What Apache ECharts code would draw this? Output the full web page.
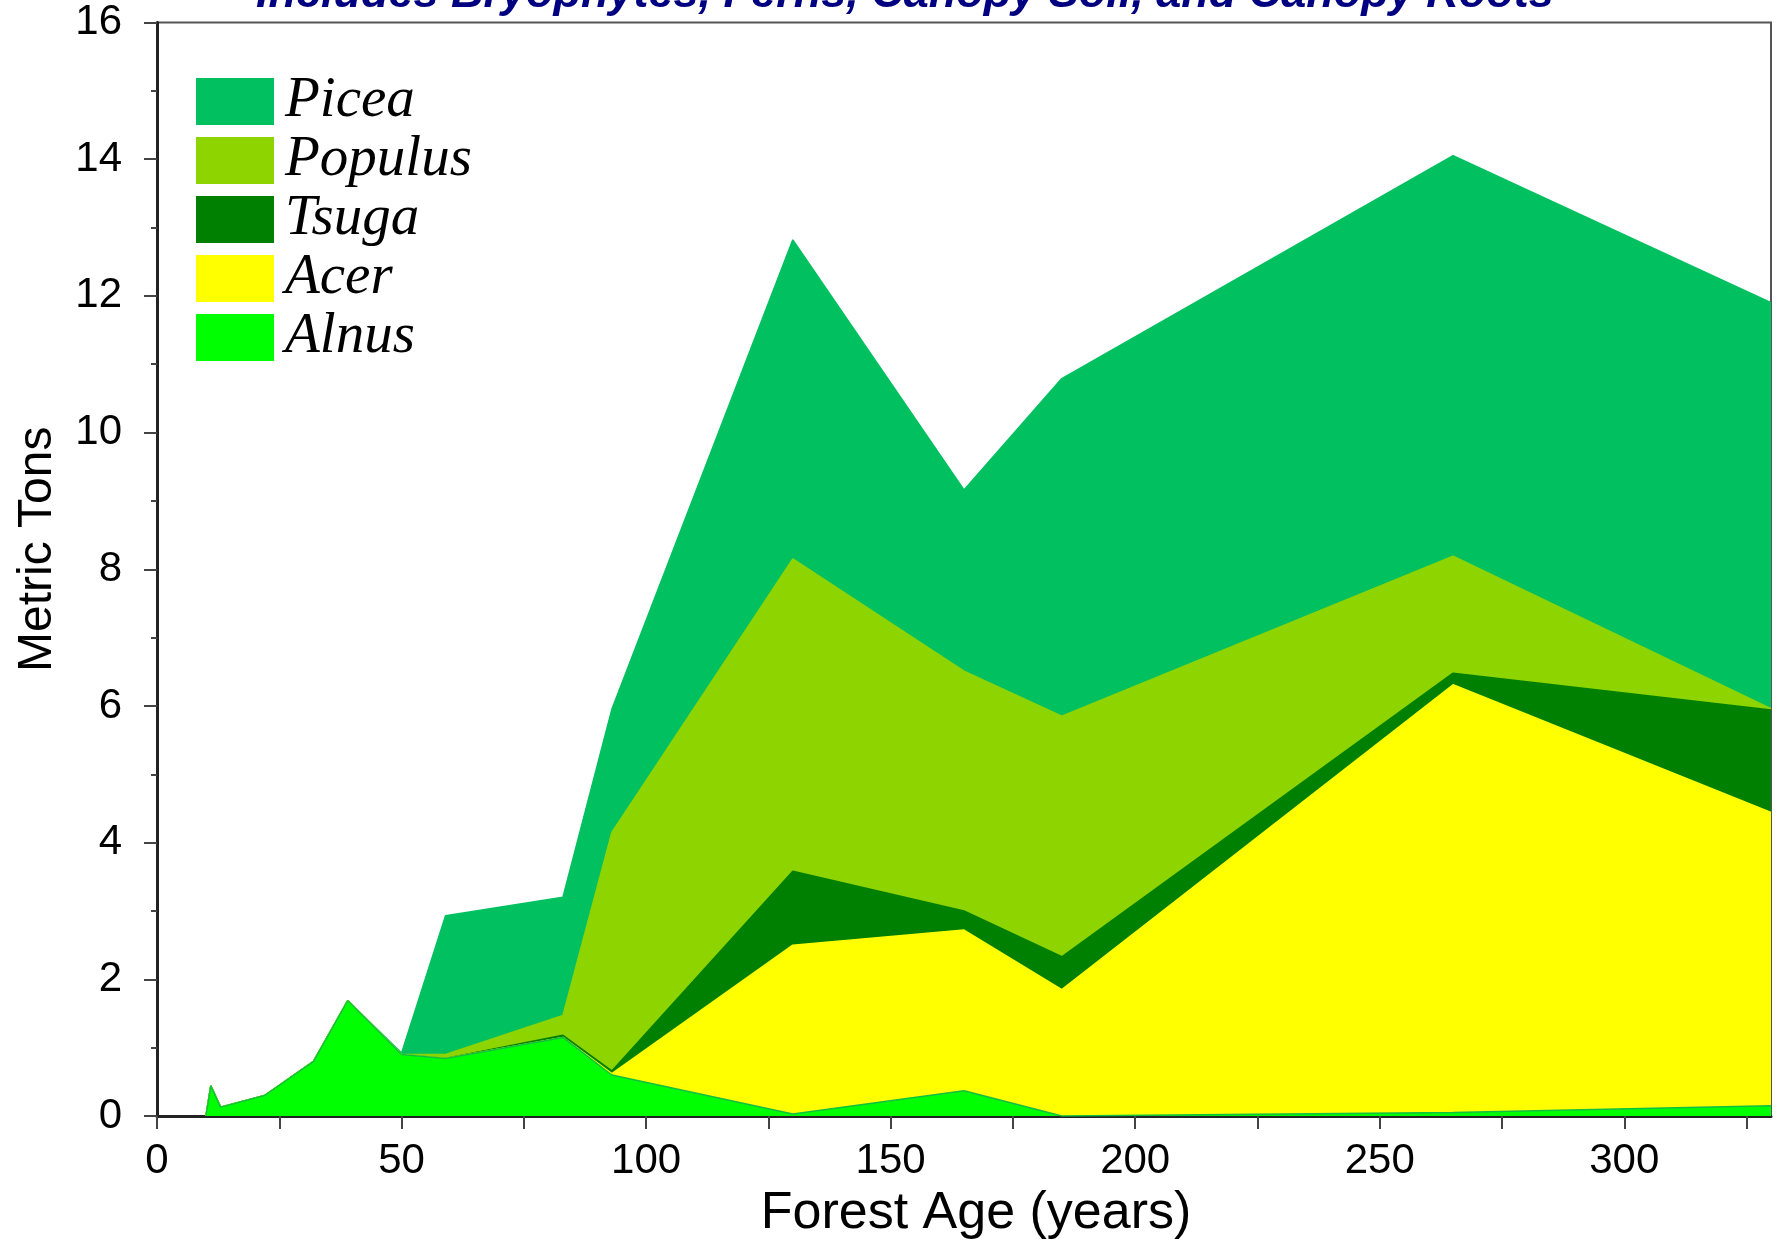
<!DOCTYPE html>
<html>
<head>
<meta charset="utf-8">
<script src="https://cdn.jsdelivr.net/npm/echarts@6/dist/echarts.min.js"></script>
<style>
html,body{margin:0;padding:0;background:#fff;}
#chart{width:1786px;height:1245px;}
</style>
</head>
<body>
<div id="chart"></div>
<script>
// Forest age (years)
const ages    = [10, 11, 13, 22, 32, 39, 50, 59, 83, 93, 130, 165, 185, 265, 330];
// Layer thickness (metric tons), stacked bottom to top
const alnus   = [0, 0.44, 0.13, 0.30, 0.80, 1.69, 0.90, 0.84, 1.15, 0.60, 0.03, 0.37, 0.00, 0.05, 0.15];
const acer    = [0, 0, 0, 0, 0, 0, 0, 0, 0, 0.02, 2.47, 2.35, 1.85, 6.26, 4.29];
const tsuga   = [0, 0, 0, 0, 0, 0, 0, 0, 0.03, 0.04, 1.08, 0.28, 0.48, 0.17, 1.50];
const populus = [0, 0, 0, 0, 0, 0, 0.00, 0.06, 0.29, 3.49, 4.57, 3.51, 3.52, 1.71, 0.02];
const picea   = [0, 0, 0, 0, 0, 0, 0.02, 2.03, 1.73, 1.80, 4.67, 2.65, 4.94, 5.86, 5.94];

const legendOrder = ['Picea', 'Populus', 'Tsuga', 'Acer', 'Alnus'];
const titleText = 'Includes Bryophytes, Ferns, Canopy Soil, and Canopy Roots';
const xName = 'Forest Age (years)';
const yName = 'Metric Tons';

const layers = [
  {name: 'Alnus', values: alnus, color: '#00ff00', line: '#10c040'},
  {name: 'Acer', values: acer, color: '#ffff00', line: '#ffff00'},
  {name: 'Tsuga', values: tsuga, color: '#008000', line: '#008000'},
  {name: 'Populus', values: populus, color: '#8ed400', line: '#8ed400'},
  {name: 'Picea', values: picea, color: '#00c060', line: '#00c060'}
];

// cumulative tops (stack bottom -> top), drawn as overlapping areas down to the axis
const running = ages.map(function () { return 0; });
const seriesList = layers.map(function (L, k) {
  const pts = ages.map(function (a, i) {
    running[i] = +(running[i] + L.values[i]).toFixed(4);
    return [a, running[i]];
  });
  return {
    name: L.name,
    type: 'line',
    symbol: 'none',
    smooth: false,
    z: 10 - k,
    color: L.color,
    lineStyle: {color: L.line, width: 1.5},
    areaStyle: {color: L.color, opacity: 1, origin: 'start'},
    data: pts
  };
});

const chart = echarts.init(document.getElementById('chart'), null, {renderer: 'canvas'});
const option = {
  backgroundColor: '#ffffff',
  animation: false,
  title: {
    text: titleText,
    left: 256,
    top: -28,
    padding: 0,
    textStyle: {
      fontFamily: 'Liberation Sans, Arial, sans-serif',
      fontSize: 45,
      fontWeight: 'bold',
      fontStyle: 'italic',
      color: '#000080'
    }
  },
  legend: {
    data: legendOrder,
    orient: 'vertical',
    left: 196,
    top: 73,
    padding: 0,
    itemWidth: 78,
    itemHeight: 47,
    itemGap: 2,
    icon: 'rect',
    itemStyle: {borderWidth: 0},
    lineStyle: {width: 0},
    textStyle: {
      fontFamily: 'Liberation Serif, Times New Roman, serif',
      fontStyle: 'italic',
      fontSize: 57,
      color: '#000',
      padding: [0, 0, 0, 6]
    }
  },
  grid: {
    left: 157, right: 15, top: 22.5, bottom: 117,
    show: true,
    borderColor: '#555',
    borderWidth: 2,
    backgroundColor: '#ffffff'
  },
  xAxis: {
    type: 'value',
    min: 0,
    max: 330,
    interval: 25,
    name: xName,
    nameLocation: 'middle',
    nameGap: 72,
    nameTextStyle: {fontFamily: 'Liberation Sans, Arial, sans-serif', fontSize: 52, color: '#000', padding: [0, 0, 0, 24]},
    axisLine: {show: true, onZero: false, lineStyle: {color: '#222', width: 3}},
    axisTick: {show: true, length: 13, inside: false, lineStyle: {color: '#444', width: 2}},
    splitLine: {show: false},
    axisLabel: {
      fontFamily: 'Liberation Sans, Arial, sans-serif',
      fontSize: 42,
      color: '#000',
      margin: 24,
      showMaxLabel: false,
      formatter: function (v) { return (v % 50 === 0 && v <= 300) ? String(v) : ''; }
    }
  },
  yAxis: {
    type: 'value',
    min: 0,
    max: 16,
    interval: 2,
    name: yName,
    nameLocation: 'middle',
    nameGap: 95,
    nameTextStyle: {fontFamily: 'Liberation Sans, Arial, sans-serif', fontSize: 48, color: '#000', padding: [0, 0, 0, 40]},
    axisLine: {show: true, onZero: false, lineStyle: {color: '#222', width: 3}},
    axisTick: {show: true, length: 13, inside: false, lineStyle: {color: '#444', width: 2}},
    minorTick: {show: true, splitNumber: 2, length: 6, lineStyle: {color: '#444', width: 2}},
    splitLine: {show: false},
    axisLabel: {
      fontFamily: 'Liberation Sans, Arial, sans-serif',
      fontSize: 42,
      color: '#000',
      margin: 35
    }
  },
  series: seriesList
};
chart.setOption(option);
</script>
</body>
</html>
